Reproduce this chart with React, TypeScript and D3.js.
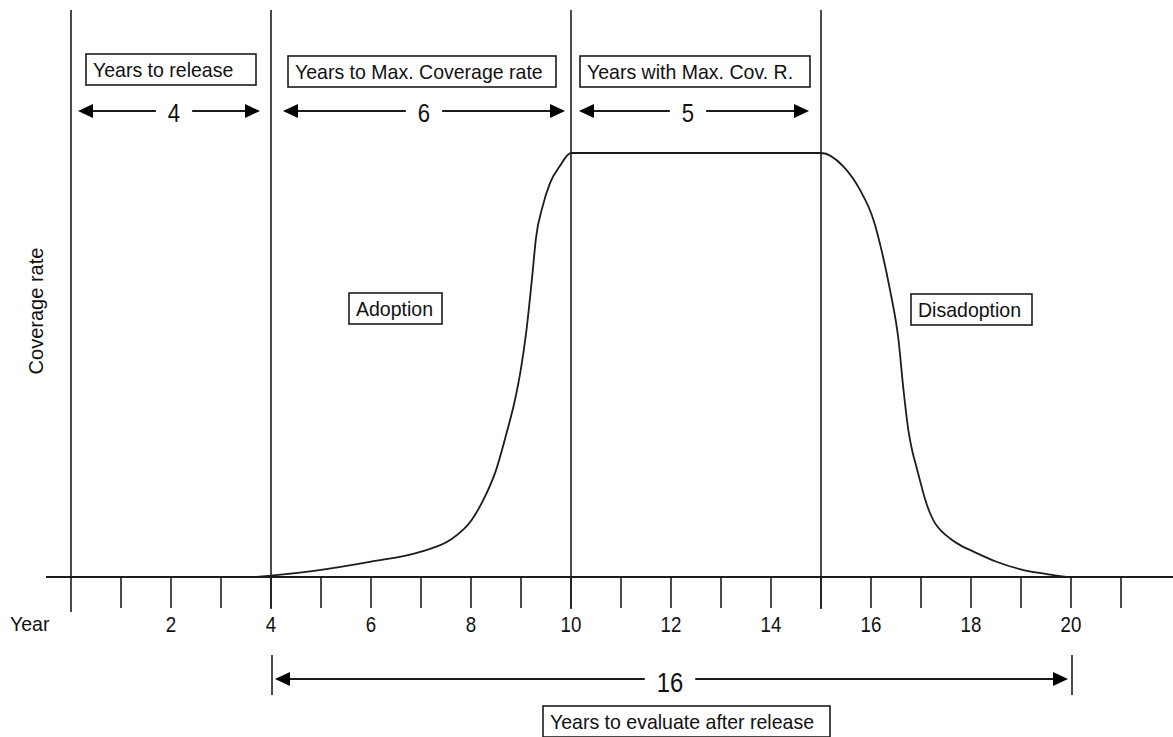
import { useEffect, useRef } from 'react';
import * as d3 from 'd3';

// phase boundaries (years)
const phaseYears = [0, 4, 10, 15];
const tickYears = [1, 2, 3, 4, 5, 6, 7, 8, 9, 10, 11, 12, 13, 14, 15, 16, 17, 18, 19, 20, 21];
const labelYears = [2, 4, 6, 8, 10, 12, 14, 16, 18, 20];

// spans above the chart
const spanLabels = ['Years to release', 'Years to Max. Coverage rate', 'Years with Max. Cov. R.'];
const spanFrom = [0, 4, 10];
const spanTo = [4, 10, 15];

// span below the axis
const evalLabel = 'Years to evaluate after release';
const evalFrom = 4;
const evalTo = 20;

// coverage curve (0..100 = max coverage)
const curveYears = [
  3.71, 4.0, 4.9, 6.0, 7.0, 7.58, 8.01, 8.31, 8.48, 8.71, 8.88, 8.99, 9.11, 9.23, 9.3, 9.43, 9.58, 9.77, 10.0,
  15.0, 15.45, 15.78, 16.05, 16.21, 16.38, 16.55, 16.65, 16.75, 16.82, 16.91, 16.99, 17.08, 17.18, 17.28, 17.42, 17.58,
  17.8, 18.05, 18.51, 19.05, 19.51, 19.91,
];
const coverage = [
  0, 0.3, 1.5, 3.6, 6.0, 8.7, 13.4, 19.7, 24.5, 33.9, 41.8, 48.5, 58.3, 71.6, 80.0, 87.3, 92.9, 96.8, 100,
  100, 96.8, 91.3, 84.2, 77.1, 67.7, 55.9, 44.1, 34.4, 30.0, 25.9, 22.3, 18.4, 15.1, 12.7, 10.7, 9.1,
  7.4, 6.0, 3.6, 1.65, 0.7, 0,
];

const phaseLabels = ['Adoption', 'Disadoption'];

const W = 1173;
const H = 737;
const INK = '#1c1c1c';
const FONT = '"Liberation Sans", Arial, sans-serif';

export default function App() {
  const svgRef = useRef<SVGSVGElement>(null);

  useEffect(() => {
    if (!svgRef.current) return;
    const svg = d3.select(svgRef.current);
    svg.selectAll('*').remove();

    const x = d3.scaleLinear().domain([0, 20]).range([71, 1071]);
    const y = d3.scaleLinear().domain([0, 100]).range([577, 153]);

    svg.append('rect').attr('width', W).attr('height', H).attr('fill', '#fff');

    // narrow-looking text helper
    const label = (tx: number, ty: number, s: string, size: number, sx: number, anchor = 'start') =>
      svg.append('text')
        .attr('transform', `translate(${tx},${ty}) scale(${sx},1)`)
        .attr('text-anchor', anchor)
        .attr('font-family', FONT)
        .attr('font-size', size)
        .attr('fill', '#111')
        .text(s);

    // phase verticals
    svg.selectAll('.phase')
      .data(phaseYears)
      .enter()
      .append('line')
      .attr('x1', d => x(d)).attr('x2', d => x(d))
      .attr('y1', 10).attr('y2', d => (d === 0 ? 612 : 609))
      .attr('stroke', INK)
      .attr('stroke-width', 1.6);

    // axis line
    svg.append('line')
      .attr('x1', 46).attr('x2', W)
      .attr('y1', y(0)).attr('y2', y(0))
      .attr('stroke', INK).attr('stroke-width', 2);

    // ticks
    svg.selectAll('.tick')
      .data(tickYears)
      .enter()
      .append('line')
      .attr('x1', d => x(d)).attr('x2', d => x(d))
      .attr('y1', y(0)).attr('y2', 608)
      .attr('stroke', INK).attr('stroke-width', 1.6);

    labelYears.forEach(d => label(x(d), 632, String(d), 22, 0.85, 'middle'));
    label(10, 631, 'Year', 21, 0.93);

    // y title
    svg.append('text')
      .attr('transform', 'translate(43,311) rotate(-90)')
      .attr('text-anchor', 'middle')
      .attr('font-family', FONT)
      .attr('font-size', 20)
      .attr('fill', '#111')
      .text('Coverage rate');

    // curve
    const line = d3.line<number>()
      .x((_, i) => x(curveYears[i]))
      .y(d => y(d))
      .curve(d3.curveMonotoneX);
    svg.append('path')
      .attr('d', line(coverage)!)
      .attr('fill', 'none')
      .attr('stroke', INK)
      .attr('stroke-width', 1.8);

    // boxed labels
    const boxes = [
      { text: spanLabels[0], x: 86, y: 54, w: 170 },
      { text: spanLabels[1], x: 288, y: 56, w: 268 },
      { text: spanLabels[2], x: 580, y: 56, w: 230 },
      { text: phaseLabels[0], x: 349, y: 293, w: 93 },
      { text: phaseLabels[1], x: 911, y: 294, w: 121 },
      { text: evalLabel, x: 543, y: 706, w: 287 },
    ];
    boxes.forEach(b => {
      svg.append('rect')
        .attr('x', b.x).attr('y', b.y)
        .attr('width', b.w).attr('height', 31)
        .attr('fill', '#fff')
        .attr('stroke', INK).attr('stroke-width', 1.6);
      label(b.x + 7, b.y + 23, b.text, 21, 0.93);
    });

    // dimension arrows
    const arrow = (x1: number, x2: number, ay: number, cx: number, value: number, size: number, base: number) => {
      const t = label(cx, base, String(value), size, 0.85, 'middle');
      const half = ((t.node() as SVGTextElement).getBBox().width * 0.85) / 2 + 12;
      const head = 15;
      const hh = 7;
      svg.append('line').attr('x1', x1 + head - 1).attr('x2', cx - half).attr('y1', ay).attr('y2', ay)
        .attr('stroke', INK).attr('stroke-width', 2);
      svg.append('line').attr('x1', cx + half).attr('x2', x2 - head + 1).attr('y1', ay).attr('y2', ay)
        .attr('stroke', INK).attr('stroke-width', 2);
      svg.append('polygon')
        .attr('points', `${x1},${ay} ${x1 + head},${ay - hh} ${x1 + head},${ay + hh}`)
        .attr('fill', '#000');
      svg.append('polygon')
        .attr('points', `${x2},${ay} ${x2 - head},${ay - hh} ${x2 - head},${ay + hh}`)
        .attr('fill', '#000');
    };

    const topArrows = [
      { x1: x(spanFrom[0]) + 7, x2: x(spanTo[0]) - 11, cx: 174 },
      { x1: x(spanFrom[1]) + 12, x2: x(spanTo[1]) - 6, cx: 424 },
      { x1: x(spanFrom[2]) + 8, x2: x(spanTo[2]) - 12, cx: 688 },
    ];
    topArrows.forEach((a, i) => arrow(a.x1, a.x2, 111, a.cx, spanTo[i] - spanFrom[i], 26, 122));

    // bottom bracket
    [evalFrom, evalTo].forEach(d => {
      svg.append('line')
        .attr('x1', x(d) + 1).attr('x2', x(d) + 1)
        .attr('y1', 655).attr('y2', 695)
        .attr('stroke', INK).attr('stroke-width', 1.6);
    });
    arrow(x(evalFrom) + 4, x(evalTo) - 3, 679, 670, evalTo - evalFrom, 28, 692);
  }, []);

  return (
    <svg
      ref={svgRef}
      width={W}
      height={H}
      style={{ position: 'absolute', left: 0, top: 0, display: 'block' }}
    />
  );
}
